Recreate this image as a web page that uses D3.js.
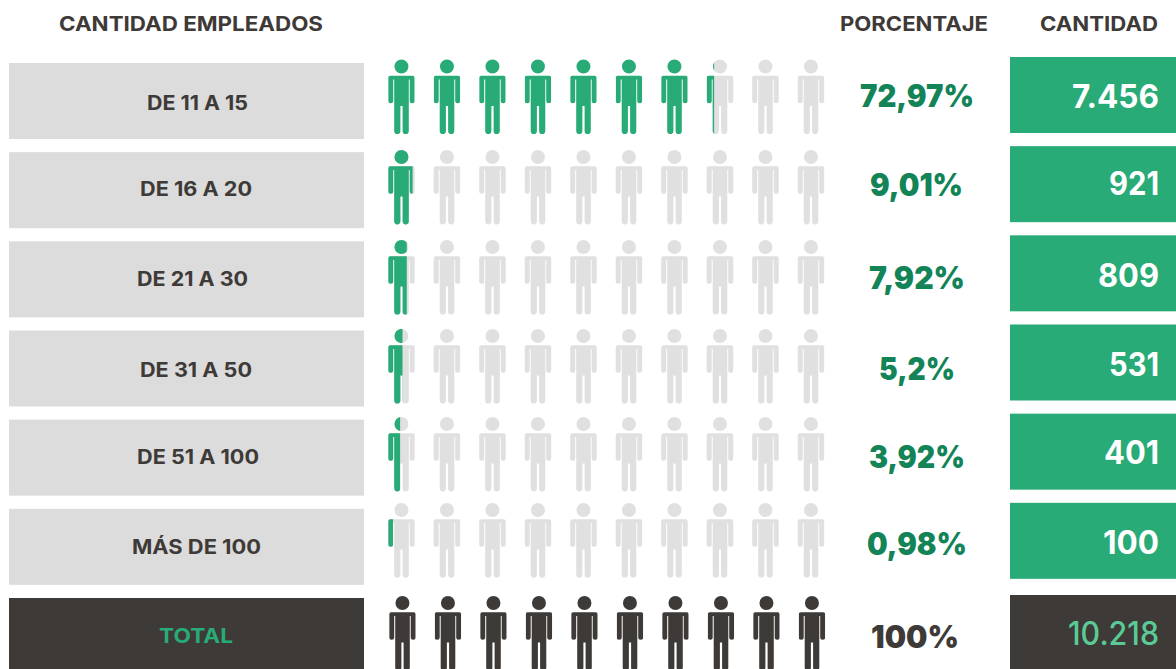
<!DOCTYPE html>
<html>
<head>
<meta charset="utf-8">
<script src="https://cdn.jsdelivr.net/npm/d3@7"></script>
<style>
  html, body { margin: 0; padding: 0; background: #fff; overflow: hidden; }
  text { font-family: "Inter", "Open Sans", sans-serif; }
</style>
</head>
<body>
<div id="chart"></div>
<script>
// Data
var categories = ["DE 11 A 15", "DE 16 A 20", "DE 21 A 30", "DE 31 A 50", "DE 51 A 100", "MÁS DE 100", "TOTAL"];
var percentages = ["72,97%", "9,01%", "7,92%", "5,2%", "3,92%", "0,98%", "100%"];
var quantities = ["7.456", "921", "809", "531", "401", "100", "10.218"];
// how many of the ten figures are painted, as drawn in the original
var filledIcons = [7.28, 0.92, 0.7, 0.54, 0.45, 0.18, 10];
var headers = ["CANTIDAD EMPLEADOS", "PORCENTAJE", "CANTIDAD"];

// Layout: small hand nudges per row, the original is not perfectly regular
var iconNudge = [-3.5, -2.2, -1.3, -1.5, -2.7, -5.8, -2];
var quantityNudge = [0, 0, 0, 0, 0, 0, 3];
var labelBaseline = [110, 196, 286, 377, 464, 554, 643];
var percentBaseline = [107, 196, 289, 380, 468, 555, 648];
var quantityBaseline = [108, 195, 287, 376, 464, 554, 645];

// Layout: the stand-in font is narrower than the original, so text is fitted to these spans
var headerSpan = [[59, 323], [840, 988], [1040, 1158]];
var labelSpan = [[147, 248], [140, 252], [137, 248], [140, 252], [137, 259], [132, 261], [159, 233]];
var percentSpan = [[860, 974], [870, 963], [869, 965], [879, 955], [869, 965], [867, 967], [871, 959]];
var quantityWidth = [87, 50, 61, 50, 55, 56, 91];

var width = 1176, height = 669;
var green = "#28AB76", darkGreen = "#128457", dark = "#3E3A37", gray = "#DCDCDC", iconGray = "#E0E0E0", lightGreen = "#5ACB96";

var svg = d3.select("#chart").append("svg")
  .attr("width", width)
  .attr("height", height)
  .style("display", "block");

// rows share one band scale
var y = d3.scaleBand()
  .domain(categories)
  .range([63, 674])
  .paddingInner(0.1477)
  .paddingOuter(0)
  .align(0);

// ten figures per row
var x = d3.scaleLinear().domain([0, 10]).range([388.2, 843.2]);
var iconW = 26.5;
var personPath = "M2 16.3H24.5Q26.5 16.3 26.5 18.3V41.2A2.5 2.5 0 0 1 21.5 41.2V20H20.6V71.4A3.1 3.1 0 0 1 14.4 71.4V46.5H12.2V71.4A3.1 3.1 0 0 1 6 71.4V20H5V41.2A2.5 2.5 0 0 1 0 41.2V18.3Q0 16.3 2 16.3Z" +
  "M20.25 7A7 7 0 1 1 6.25 7A7 7 0 1 1 20.25 7Z";

function fitted(sel, span) {
  sel.attr("x", function (d, i) { return span(i)[0]; })
    .attr("text-anchor", "start")
    .attr("textLength", function (d, i) { return span(i)[1] - span(i)[0]; })
    .attr("lengthAdjust", "spacingAndGlyphs");
}

// Headers
svg.selectAll("text.header")
  .data(headers)
  .enter().append("text")
  .attr("class", "header")
  .attr("y", 31)
  .attr("font-size", 20)
  .attr("font-weight", 700)
  .attr("fill", dark)
  .text(function (d) { return d; })
  .call(fitted, function (i) { return headerSpan[i]; });

var rows = svg.selectAll("g.row")
  .data(categories)
  .enter().append("g")
  .attr("class", "row");

// Left label boxes
rows.append("rect")
  .attr("x", 9)
  .attr("y", function (d) { return y(d); })
  .attr("width", 355)
  .attr("height", y.bandwidth())
  .attr("fill", function (d, i) { return i == 6 ? dark : gray; });

rows.append("text")
  .attr("y", function (d, i) { return labelBaseline[i]; })
  .attr("font-size", 20)
  .attr("font-weight", 700)
  .attr("fill", function (d, i) { return i == 6 ? green : dark; })
  .text(function (d) { return d; })
  .call(fitted, function (i) { return labelSpan[i]; });

// Figures: grey layer, then the coloured layer clipped to the filled part
var defs = svg.append("defs");
var units = d3.range(10);

rows.each(function (cat, r) {
  var g = d3.select(this);
  var top = y(cat) + iconNudge[r];
  var shift = r == 6 ? 1 : 0;
  var fill = filledIcons[r];

  units.forEach(function (u) {
    var left = x(u) + shift;
    var part = Math.max(0, Math.min(1, fill - u));
    var icon = g.append("g").attr("transform", "translate(" + left + "," + top + ")");
    if (part < 1) {
      icon.append("path").attr("d", personPath).attr("fill", iconGray);
    }
    if (part > 0) {
      var id = "clip-" + r + "-" + u;
      defs.append("clipPath").attr("id", id)
        .append("rect")
        .attr("x", 0).attr("y", -1)
        .attr("width", part * iconW)
        .attr("height", 78);
      icon.append("path")
        .attr("d", personPath)
        .attr("fill", r == 6 ? dark : green)
        .attr("clip-path", "url(#" + id + ")");
    }
  });
});

// Percentages
rows.append("text")
  .attr("y", function (d, i) { return percentBaseline[i]; })
  .attr("font-size", 31)
  .attr("font-weight", 900)
  .attr("fill", function (d, i) { return i == 6 ? dark : darkGreen; })
  .text(function (d, i) { return percentages[i]; })
  .call(fitted, function (i) { return percentSpan[i]; });

// Right quantity boxes
rows.append("rect")
  .attr("x", 1010)
  .attr("y", function (d, i) { return y(d) - 6 + quantityNudge[i]; })
  .attr("width", 166)
  .attr("height", y.bandwidth())
  .attr("fill", function (d, i) { return i == 6 ? dark : green; });

rows.append("text")
  .attr("y", function (d, i) { return quantityBaseline[i]; })
  .attr("font-size", 32)
  .attr("font-weight", function (d, i) { return i == 6 ? 500 : 700; })
  .attr("fill", function (d, i) { return i == 6 ? lightGreen : "#fff"; })
  .text(function (d, i) { return quantities[i]; })
  .call(fitted, function (i) { return [1159 - quantityWidth[i], 1159]; });
</script>
</body>
</html>
